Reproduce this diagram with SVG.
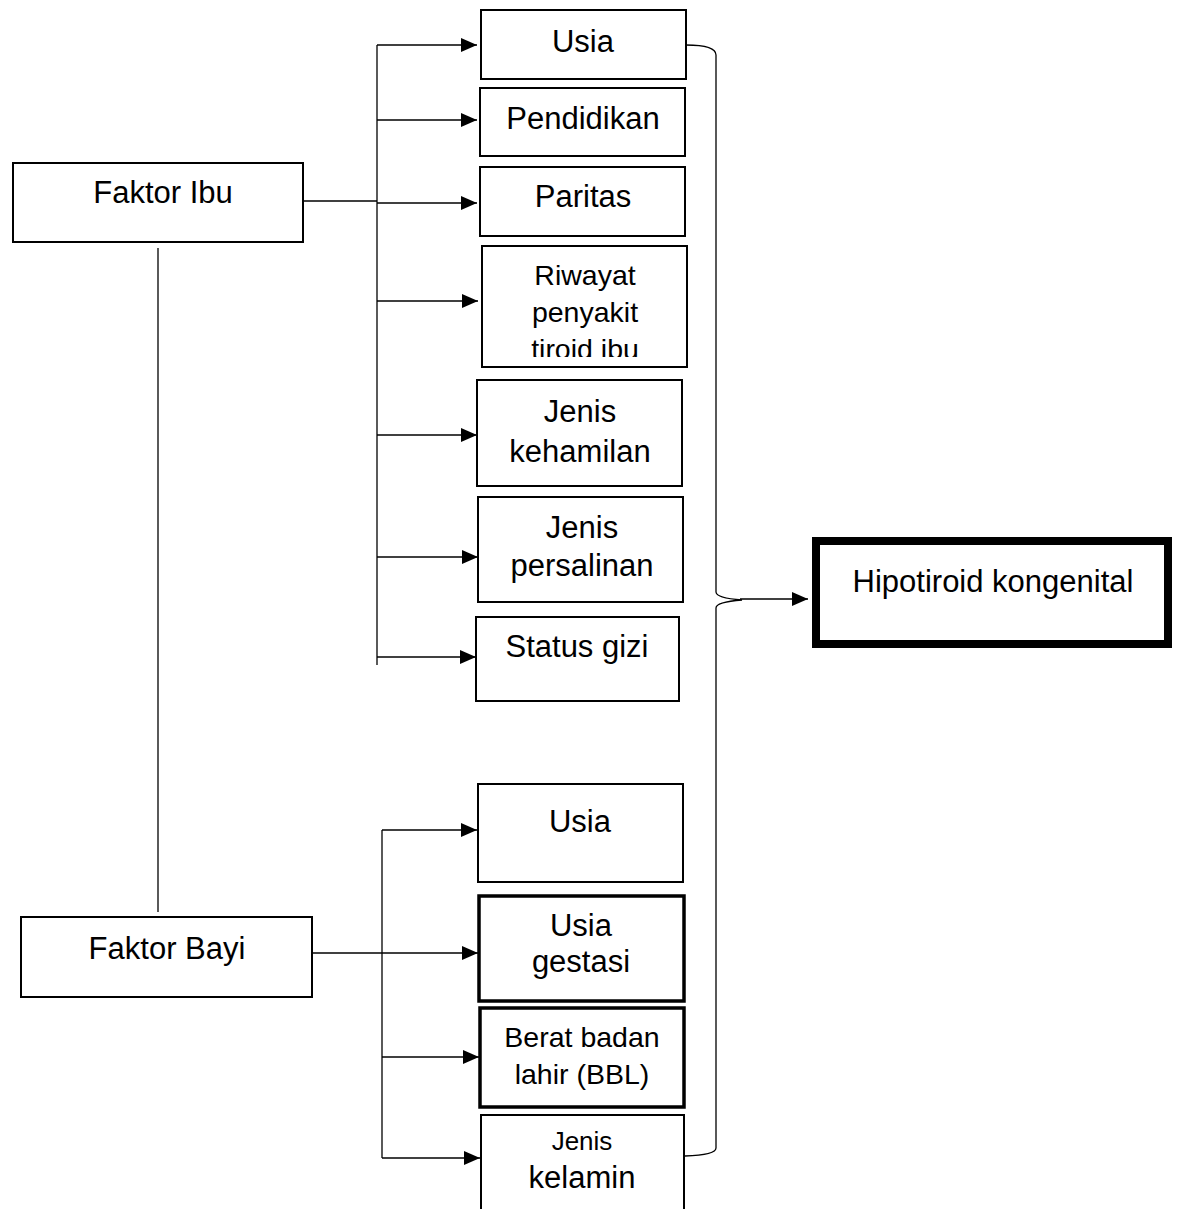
<svg xmlns="http://www.w3.org/2000/svg" width="1181" height="1209" viewBox="0 0 1181 1209">
<style>
.box{fill:#fff;stroke:#000;stroke-width:2}
.thick{fill:#fff;stroke:#000;stroke-width:3.5}
.main{fill:#fff;stroke:#000;stroke-width:8}
.ln{fill:none;stroke:#000;stroke-width:1.3}
text{font-family:"Liberation Sans",Arial,sans-serif;font-size:31px;fill:#000;text-anchor:middle}
.s28{font-size:28.5px}
.s26{font-size:26px}
</style>
<defs>
<marker id="ah" viewBox="0 0 16 14" refX="16" refY="7" markerWidth="16" markerHeight="14" markerUnits="userSpaceOnUse" orient="auto">
<path d="M0,0 L16,7 L0,14 Z" fill="#000"/>
</marker>
<clipPath id="clipR"><rect x="482" y="246" width="205" height="111"/></clipPath>
</defs>
<g id="connectors">
<line class="ln" x1="304" y1="201" x2="377" y2="201"/>
<line class="ln" x1="377" y1="45" x2="377" y2="665"/>
<line class="ln" x1="377" y1="45" x2="477" y2="45" marker-end="url(#ah)"/>
<line class="ln" x1="377" y1="120" x2="477" y2="120" marker-end="url(#ah)"/>
<line class="ln" x1="377" y1="203" x2="477" y2="203" marker-end="url(#ah)"/>
<line class="ln" x1="377" y1="301" x2="478" y2="301" marker-end="url(#ah)"/>
<line class="ln" x1="377" y1="435" x2="477" y2="435" marker-end="url(#ah)"/>
<line class="ln" x1="377" y1="557" x2="478" y2="557" marker-end="url(#ah)"/>
<line class="ln" x1="377" y1="657" x2="476" y2="657" marker-end="url(#ah)"/>
<line class="ln" x1="158" y1="248" x2="158" y2="912"/>
<line class="ln" x1="312" y1="953" x2="478" y2="953" marker-end="url(#ah)"/>
<line class="ln" x1="382" y1="830" x2="382" y2="1158"/>
<line class="ln" x1="382" y1="830" x2="477" y2="830" marker-end="url(#ah)"/>
<line class="ln" x1="382" y1="1057" x2="479" y2="1057" marker-end="url(#ah)"/>
<line class="ln" x1="382" y1="1158" x2="480" y2="1158" marker-end="url(#ah)"/>
<path class="ln" d="M686,45 Q716,45 716,55 L716,592 Q716,598 742,600 Q716,602 716,608 L716,1148 Q716,1155 685,1156"/>
<line class="ln" x1="740" y1="599" x2="808" y2="599" marker-end="url(#ah)"/>
</g>
<g id="faktor-ibu"><rect class="box" x="13" y="163" width="290" height="79"/><text x="163" y="203">Faktor Ibu</text></g>
<g id="faktor-bayi"><rect class="box" x="21" y="917" width="291" height="80"/><text x="167" y="959">Faktor Bayi</text></g>
<g id="usia-ibu"><rect class="box" x="481" y="10" width="205" height="69"/><text x="583" y="52">Usia</text></g>
<g id="pendidikan"><rect class="box" x="480" y="88" width="205" height="68"/><text x="583" y="129">Pendidikan</text></g>
<g id="paritas"><rect class="box" x="480" y="167" width="205" height="69"/><text x="583" y="207">Paritas</text></g>
<g id="riwayat"><rect class="box" x="482" y="246" width="205" height="121"/>
<g clip-path="url(#clipR)"><text class="s28" x="585" y="285">Riwayat</text><text class="s28" x="585" y="322">penyakit</text><text class="s28" x="585" y="359">tiroid ibu</text></g></g>
<g id="jenis-kehamilan"><rect class="box" x="477" y="380" width="205" height="106"/><text x="580" y="422">Jenis</text><text x="580" y="462">kehamilan</text></g>
<g id="jenis-persalinan"><rect class="box" x="478" y="497" width="205" height="105"/><text x="582" y="538">Jenis</text><text x="582" y="576">persalinan</text></g>
<g id="status-gizi"><rect class="box" x="476" y="617" width="203" height="84"/><text x="577" y="657">Status gizi</text></g>
<g id="hipotiroid"><rect class="main" x="816" y="541" width="352" height="103"/><text x="993" y="592">Hipotiroid kongenital</text></g>
<g id="usia-bayi"><rect class="box" x="478" y="784" width="205" height="98"/><text x="580" y="832">Usia</text></g>
<g id="usia-gestasi"><rect class="thick" x="479" y="896" width="205" height="105"/><text x="581" y="936">Usia</text><text x="581" y="972">gestasi</text></g>
<g id="bbl"><rect class="thick" x="480" y="1008" width="204" height="99"/><text class="s28" x="582" y="1047">Berat badan</text><text class="s28" x="582" y="1084">lahir (BBL)</text></g>
<g id="jenis-kelamin"><rect class="box" x="481" y="1115" width="203" height="100"/><text class="s26" x="582" y="1150">Jenis</text><text x="582" y="1188">kelamin</text></g>
</svg>
